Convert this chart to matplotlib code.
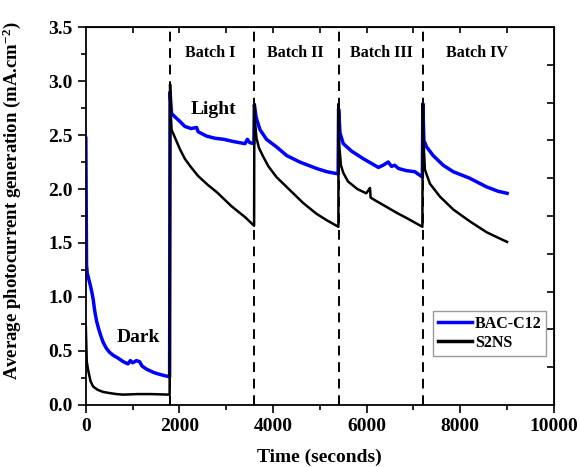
import matplotlib as mpl
import matplotlib.pyplot as plt
import numpy as np

mpl.use("Agg")
plt.rcParams['font.family'] = ['Liberation Serif', 'DejaVu Serif']
plt.rcParams['font.weight'] = 'bold'
plt.rcParams['mathtext.fontset'] = 'custom'
plt.rcParams['mathtext.rm'] = 'Liberation Serif:bold'
plt.rcParams['mathtext.default'] = 'rm'

# BAC-C12 photocurrent (time in s, current in mA/cm2)
bac_t = [0, 15, 30, 60, 100, 130, 156, 190, 228, 270, 320, 370, 430, 500, 583, 700, 800, 900, 950, 1000,
         1080, 1150, 1200, 1300, 1450, 1600, 1790,
         1800, 1830, 1900, 2000, 2115, 2250, 2365, 2400, 2580, 2760, 2950, 3150, 3400,
         3450, 3500, 3590,
         3600, 3640, 3720, 3860, 4074, 4290, 4570, 4930, 5150, 5390,
         5400, 5430, 5500, 5680, 5930, 6250, 6350, 6460, 6530, 6600, 6680, 6850, 7030, 7190,
         7200, 7222, 7280, 7420, 7635, 7850, 8200, 8560, 8800, 9000]
bac_v = [2.47, 1.30, 1.22, 1.17, 1.10, 1.04, 0.98, 0.87, 0.78, 0.71, 0.64, 0.58, 0.53, 0.49, 0.46, 0.43,
         0.40, 0.38, 0.41, 0.39,
         0.41, 0.40, 0.36, 0.33, 0.30, 0.28, 0.26,
         2.90, 2.70, 2.67, 2.63, 2.58, 2.56, 2.57, 2.53, 2.49, 2.47, 2.46, 2.44, 2.42,
         2.46, 2.43, 2.42,
         2.78, 2.66, 2.55, 2.46, 2.39, 2.31, 2.25, 2.19, 2.16, 2.14,
         2.74, 2.52, 2.42, 2.35, 2.28, 2.20, 2.22, 2.25, 2.21, 2.22, 2.19, 2.17, 2.16, 2.11,
         2.79, 2.45, 2.39, 2.31, 2.22, 2.16, 2.10, 2.02, 1.98, 1.96]

# S2NS photocurrent
s2ns_t = [0, 20, 50, 100, 156, 250, 370, 500, 655, 800, 1100, 1400, 1790,
          1800, 1815, 1831, 1900, 2009, 2115, 2250, 2400, 2600, 2800, 3113, 3400, 3595,
          3600, 3620, 3646, 3700, 3789, 3900, 4074, 4359, 4644, 4929, 5150, 5395,
          5400, 5415, 5450, 5500, 5600, 5800, 5990, 6040, 6070, 6085, 6200, 6400, 6640, 6900, 7190,
          7200, 7215, 7244, 7350, 7564, 7850, 8205, 8560, 8800, 9000]
s2ns_v = [0.72, 0.40, 0.32, 0.22, 0.17, 0.14, 0.12, 0.11, 0.10, 0.095, 0.10, 0.10, 0.095,
          2.97, 2.70, 2.55, 2.48, 2.37, 2.28, 2.20, 2.12, 2.04, 1.97, 1.84, 1.74, 1.66,
          2.79, 2.60, 2.47, 2.38, 2.30, 2.21, 2.11, 1.99, 1.87, 1.77, 1.71, 1.65,
          2.79, 2.40, 2.22, 2.15, 2.07, 2.00, 1.96, 1.99, 2.01, 1.92, 1.89, 1.84, 1.78, 1.72, 1.65,
          2.79, 2.44, 2.18, 2.05, 1.93, 1.81, 1.70, 1.60, 1.55, 1.51]

batch_edges = [1800, 3600, 5400, 7200]
batch_names = ["Batch I", "Batch II", "Batch III", "Batch IV"]
batch_label_x = [2650, 4470, 6320, 8350]

fig = plt.figure(figsize=(5.8, 4.67), dpi=100)
ax = fig.add_axes([0.148, 0.133, 0.807, 0.809])

for xb in batch_edges:
    ax.axvline(xb, color='black', lw=1.4, ls=(0, (5, 3.5)), zorder=1)

ax.plot(bac_t, bac_v, color='#0000ff', lw=2.5, label='BAC-C12', zorder=2)
ax.plot(s2ns_t, s2ns_v, color='black', lw=1.8, label='S2NS', zorder=3)

for name, xt in zip(batch_names, batch_label_x):
    ax.text(xt, 3.26, name, fontsize=11.5, fontweight='bold', ha='center', va='center')
ax.text(2720, 2.74, "Light", fontsize=14, fontweight='bold', ha='center', va='center')
ax.text(1120, 0.62, "Dark", fontsize=14, fontweight='bold', ha='center', va='center')

ax.set_xlim(0, 10000)
ax.set_ylim(0, 3.5)
ax.set_xticks(np.arange(0, 10001, 2000))
ax.set_xticks(np.arange(1000, 10000, 2000), minor=True)
ax.set_yticks(np.arange(0, 3.51, 0.5))
ax.set_yticks(np.arange(0.25, 3.5, 0.5), minor=True)
ax.set_yticklabels(["%.1f" % v for v in np.arange(0, 3.51, 0.5)])
ax.tick_params(which='major', direction='out', length=6, width=1.2, labelsize=14)
ax.tick_params(which='minor', direction='out', length=3.5, width=1.2)
for s in ax.spines.values():
    s.set_linewidth(1.3)

# top axis: inward ticks every 1000 s, right axis: inward ticks every 0.35
top = ax.secondary_xaxis('top')
top.set_xticks(np.arange(1000, 10000, 1000))
top.tick_params(direction='in', length=4, width=1.2)
top.set_xticklabels([])
right = ax.secondary_yaxis('right')
right.set_yticks(np.arange(0.35, 3.5, 0.35))
right.tick_params(direction='in', length=5, width=1.2)
right.set_yticklabels([])

ax.set_xlabel("Time (seconds)", fontsize=14, fontweight='bold', labelpad=10)
ax.set_ylabel("Average photocurrent generation (mA.cm$^{-2}$)", fontsize=13.5, fontweight='bold')
ax.yaxis.set_label_coords(-0.135, 0.54)

leg = ax.legend(loc='lower right', bbox_to_anchor=(0.984, 0.13), fontsize=11.5,
                frameon=True, fancybox=False, edgecolor='#808080', handlelength=2.1,
                handletextpad=0.2, borderpad=0.3, labelspacing=0.2, borderaxespad=0)
leg.get_frame().set_linewidth(1.0)
for line in leg.get_lines():
    line.set_linewidth(2.5)

plt.savefig("out.png", dpi=100)
